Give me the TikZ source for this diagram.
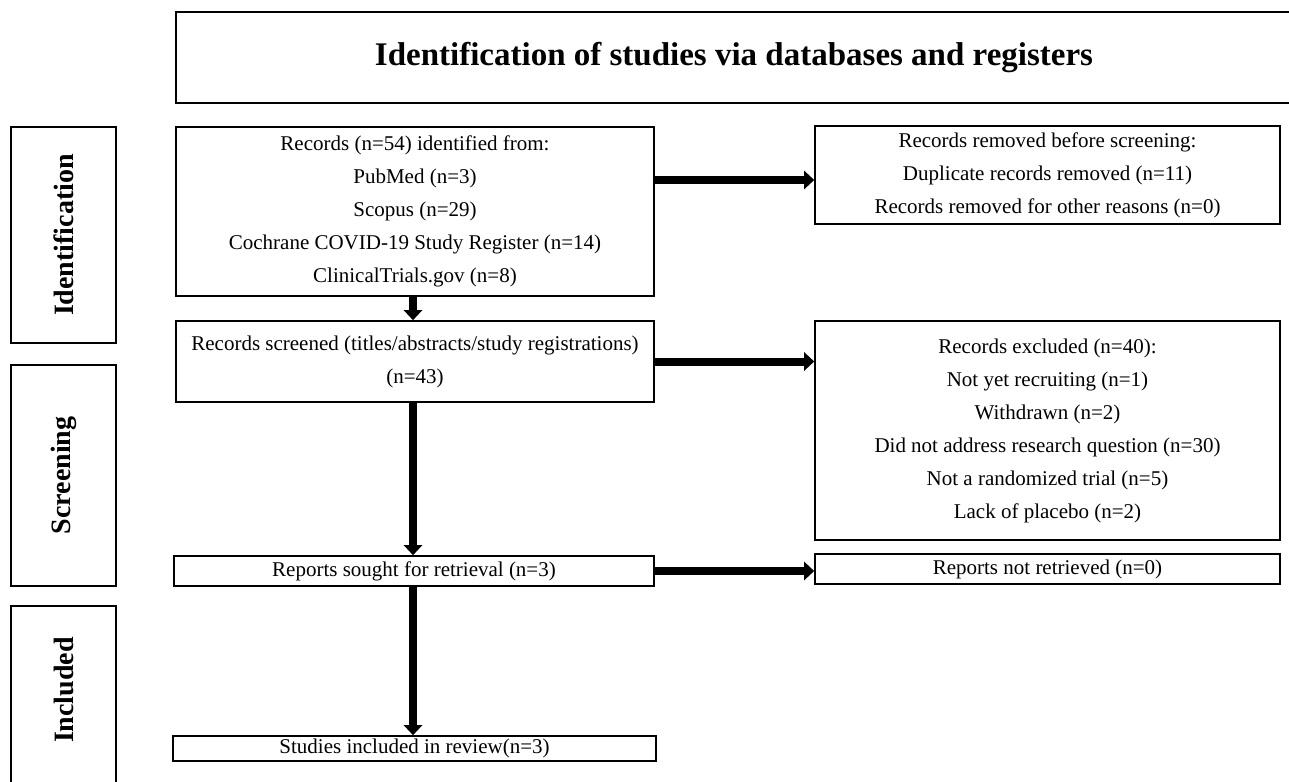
\documentclass[tikz,border=0pt]{standalone}
\usepackage{fontspec}
\setmainfont{Liberation Serif}
\usetikzlibrary{arrows.meta}
\tikzset{
  box/.style={draw, line width=0.8pt, align=center, inner sep=0pt,
    font=\fontsize{10.5}{16.5}\selectfont},
  sidebox/.style={draw, line width=0.8pt, inner sep=0pt, rotate=90,
    minimum height=52.5pt, font=\fontsize{14}{16}\selectfont\bfseries},
  flow/.style={line width=4pt, -{Triangle[length=5pt,width=9pt]}}
}
\begin{document}
\begin{tikzpicture}[x=0.5pt, y=-0.5pt]
    \useasboundingbox (0,0) rectangle (1289,781);
    % header
    \node[box, minimum width=558pt, minimum height=45.5pt, font=\fontsize{16.5}{18}\selectfont\bfseries] (head) at (734,57.5) {Identification of studies via databases and registers};
    % phase boxes on the left
    \node[sidebox, minimum width=108pt] (identside) at (63.5,235) {Identification};
    \node[sidebox, minimum width=110.5pt] (screenside) at (63.5,475.5) {Screening};
    \node[sidebox, minimum width=92pt] (inclside) at (63.5,698) {};
    \node[rotate=90, font=\fontsize{14}{16}\selectfont\bfseries] (incltext) at (63.5,690) {Included};
    % main column
    \node[box, minimum width=239pt, minimum height=84.5pt] (records) at (415,211.5) {Records (n=54) identified from:\\ PubMed (n=3)\\ Scopus (n=29)\\ Cochrane COVID-19 Study Register (n=14)\\ ClinicalTrials.gov (n=8)};
    \node[box, minimum width=239pt, minimum height=40.5pt] (screened) at (415,361.5) {Records screened (titles/abstracts/study registrations)\\ (n=43)};
    \node[box, minimum width=240pt, minimum height=15pt] (retrieval) at (414,571) {Reports sought for retrieval (n=3)};
    \node[box, minimum width=241.5pt, minimum height=12.5pt] (included) at (414.5,748.5) {Studies included in review(n=3)};
    % right column
    \node[box, minimum width=232.5pt, minimum height=49pt] (removed) at (1047.5,175) {Records removed before screening:\\ Duplicate records removed (n=11)\\ Records removed for other reasons (n=0)};
    \node[box, minimum width=232.5pt, minimum height=109.5pt] (excluded) at (1047.5,430.5) {Records excluded (n=40):\\ Not yet recruiting (n=1)\\ Withdrawn (n=2)\\ Did not address research question (n=30)\\ Not a randomized trial (n=5)\\ Lack of placebo (n=2)};
    \node[box, minimum width=232.5pt, minimum height=15pt] (notretrieved) at (1047.5,569) {Reports not retrieved (n=0)};
    % arrows
    \draw[flow] ([xshift=-1pt]records.south) -- ([xshift=-1pt]screened.north);
    \draw[flow] ([xshift=-1pt]screened.south) -- ([xshift=-1pt]screened.south |- retrieval.north);
    \draw[flow] ([xshift=-1pt]screened.south |- retrieval.south) -- ([xshift=-1pt]screened.south |- included.north);
    \draw[flow] ([yshift=-2.5pt]records.east |- removed.west) -- ([yshift=-2.5pt]removed.west);
    \draw[flow] (screened) -- (screened -| excluded.west);
    \draw[flow] (retrieval) -- (retrieval -| notretrieved.west);
\end{tikzpicture}
\end{document}
